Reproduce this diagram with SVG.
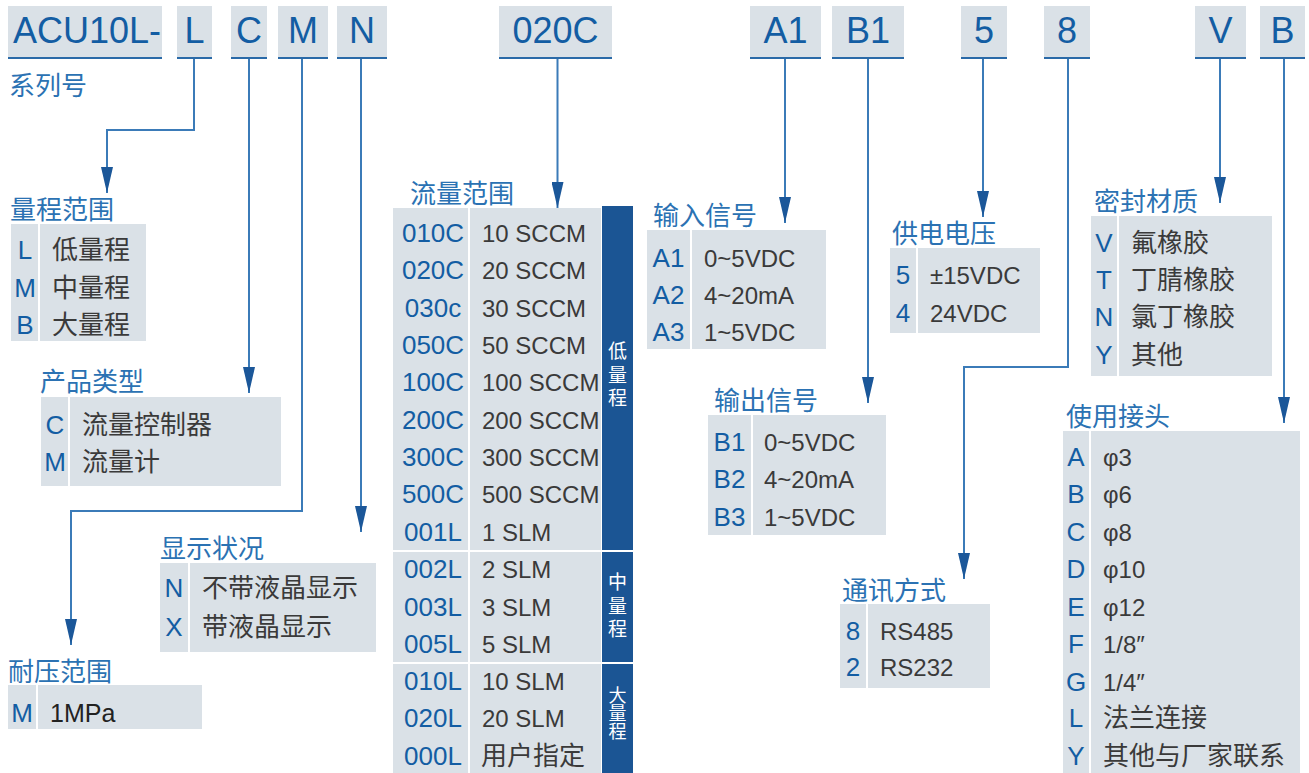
<svg xmlns="http://www.w3.org/2000/svg" width="1309" height="773" viewBox="0 0 1309 773">
<defs>
<style>
.bx{fill:#dae1e7}
.ul{stroke:#2a6aa8;stroke-width:2}
.hd{font-family:"Liberation Sans","Noto Sans CJK SC",sans-serif;font-size:36px;fill:#135da3;text-anchor:middle}
.ttl{font-family:"Noto Sans CJK SC",sans-serif;font-size:26px;fill:#2b72b3}
.cd{font-family:"Liberation Sans",sans-serif;font-size:26px;fill:#135da3;text-anchor:middle}
.vl{font-family:"Liberation Sans","Noto Sans CJK SC",sans-serif;font-size:24px;fill:#3a3a3a}
.cn{font-family:"Noto Sans CJK SC",sans-serif;font-size:26px;fill:#3a3a3a}
.bar{fill:#1b5594}
.bt{font-family:"Noto Sans CJK SC",sans-serif;font-size:19px;fill:#ffffff;text-anchor:middle;writing-mode:vertical-rl}
.cx{fill:none;stroke:#3b7bb8;stroke-width:2}
.sep{stroke:#ffffff;stroke-width:2}
</style>
<marker id="ah" viewBox="0 -6 26 12" markerWidth="26" markerHeight="12" refX="26" refY="0" orient="auto" markerUnits="userSpaceOnUse">
<path d="M0,-6 L26,0 L0,6 Z" fill="#1b5799"/>
</marker>
</defs>

<g id="header">
<g id="h-series"><rect class="bx" x="8" y="6" width="154" height="52"/><line class="ul" x1="8" y1="58" x2="162" y2="58"/><text class="hd" x="87" y="43">ACU10L-</text></g>
<g id="h-L"><rect class="bx" x="177" y="6" width="35" height="52"/><line class="ul" x1="177" y1="58" x2="212" y2="58"/><text class="hd" x="194.5" y="43">L</text></g>
<g id="h-C"><rect class="bx" x="231" y="6" width="36" height="52"/><line class="ul" x1="231" y1="58" x2="267" y2="58"/><text class="hd" x="249" y="43">C</text></g>
<g id="h-M"><rect class="bx" x="278" y="6" width="50" height="52"/><line class="ul" x1="278" y1="58" x2="328" y2="58"/><text class="hd" x="303" y="43">M</text></g>
<g id="h-N"><rect class="bx" x="337" y="6" width="50" height="52"/><line class="ul" x1="337" y1="58" x2="387" y2="58"/><text class="hd" x="362" y="43">N</text></g>
<g id="h-020C"><rect class="bx" x="499" y="6" width="113" height="52"/><line class="ul" x1="499" y1="58" x2="612" y2="58"/><text class="hd" x="555.5" y="43">020C</text></g>
<g id="h-A1"><rect class="bx" x="750" y="6" width="71" height="52"/><line class="ul" x1="750" y1="58" x2="821" y2="58"/><text class="hd" x="785.5" y="43">A1</text></g>
<g id="h-B1"><rect class="bx" x="832" y="6" width="72" height="52"/><line class="ul" x1="832" y1="58" x2="904" y2="58"/><text class="hd" x="868" y="43">B1</text></g>
<g id="h-5"><rect class="bx" x="961" y="6" width="46" height="52"/><line class="ul" x1="961" y1="58" x2="1007" y2="58"/><text class="hd" x="984" y="43">5</text></g>
<g id="h-8"><rect class="bx" x="1044" y="6" width="46" height="52"/><line class="ul" x1="1044" y1="58" x2="1090" y2="58"/><text class="hd" x="1067" y="43">8</text></g>
<g id="h-V"><rect class="bx" x="1195" y="6" width="51" height="52"/><line class="ul" x1="1195" y1="58" x2="1246" y2="58"/><text class="hd" x="1220.5" y="43">V</text></g>
<g id="h-B"><rect class="bx" x="1260" y="6" width="45" height="52"/><line class="ul" x1="1260" y1="58" x2="1305" y2="58"/><text class="hd" x="1282.5" y="43">B</text></g>
<text class="ttl" x="9" y="95">系列号</text>
</g>

<g id="connectors">
<path class="cx" d="M194,59 V130 H107 V193" marker-end="url(#ah)"/>
<path class="cx" d="M249,59 V393" marker-end="url(#ah)"/>
<path class="cx" d="M302,59 V511 H71 V645" marker-end="url(#ah)"/>
<path class="cx" d="M361,59 V532" marker-end="url(#ah)"/>
<path class="cx" d="M557.5,59 V208" marker-end="url(#ah)"/>
<path class="cx" d="M785,59 V223" marker-end="url(#ah)"/>
<path class="cx" d="M868,59 V403" marker-end="url(#ah)"/>
<path class="cx" d="M983,59 V217" marker-end="url(#ah)"/>
<path class="cx" d="M1068,59 V367 H964 V579" marker-end="url(#ah)"/>
<path class="cx" d="M1220,59 V203" marker-end="url(#ah)"/>
<path class="cx" d="M1284,59 V423" marker-end="url(#ah)"/>
</g>

<g id="range">
<text class="ttl" x="10" y="219">量程范围</text>
<rect class="bx" x="11" y="224" width="27" height="117"/>
<rect class="bx" x="40" y="224" width="106" height="117"/>
<text class="cd" x="25" y="259">L</text><text class="cn" x="52" y="259">低量程</text>
<text class="cd" x="25" y="297">M</text><text class="cn" x="52" y="297">中量程</text>
<text class="cd" x="25" y="334">B</text><text class="cn" x="52" y="334">大量程</text>
</g>

<g id="type">
<text class="ttl" x="40" y="391">产品类型</text>
<rect class="bx" x="41" y="397" width="27" height="89"/>
<rect class="bx" x="70" y="397" width="211" height="89"/>
<text class="cd" x="55" y="434">C</text><text class="cn" x="82" y="434">流量控制器</text>
<text class="cd" x="55" y="471">M</text><text class="cn" x="82" y="471">流量计</text>
</g>

<g id="display">
<text class="ttl" x="160" y="558">显示状况</text>
<rect class="bx" x="160" y="563" width="28" height="89"/>
<rect class="bx" x="190" y="563" width="186" height="89"/>
<text class="cd" x="174" y="597">N</text><text class="cn" x="202" y="597">不带液晶显示</text>
<text class="cd" x="174" y="636">X</text><text class="cn" x="202" y="636">带液晶显示</text>
</g>

<g id="pressure">
<text class="ttl" x="8" y="681">耐压范围</text>
<rect class="bx" x="8" y="685" width="28" height="44"/>
<rect class="bx" x="38" y="685" width="164" height="44"/>
<text class="cd" x="22" y="722">M</text><text class="vl" x="50" y="722" style="fill:#222;font-size:25px">1MPa</text>
</g>

<g id="flow">
<text class="ttl" x="410" y="203">流量范围</text>
<rect class="bx" x="393" y="208" width="75" height="565"/>
<rect class="bx" x="470" y="208" width="131" height="565"/>
<rect class="bar" x="602" y="206" width="31" height="567"/>
<line class="sep" x1="393" y1="551" x2="633" y2="551"/>
<line class="sep" x1="393" y1="663" x2="633" y2="663"/>
<text class="bt" x="617.5" y="377" style="letter-spacing:4.5px">低量程</text>
<text class="bt" x="617.5" y="608" style="letter-spacing:4.5px">中量程</text>
<text class="bt" x="617.5" y="713" style="font-size:18px">大量程</text>
<text class="cd" x="433" y="242">010C</text><text class="vl" x="482" y="242">10 SCCM</text>
<text class="cd" x="433" y="279">020C</text><text class="vl" x="482" y="279">20 SCCM</text>
<text class="cd" x="433" y="317">030c</text><text class="vl" x="482" y="317">30 SCCM</text>
<text class="cd" x="433" y="354">050C</text><text class="vl" x="482" y="354">50 SCCM</text>
<text class="cd" x="433" y="391">100C</text><text class="vl" x="482" y="391">100 SCCM</text>
<text class="cd" x="433" y="429">200C</text><text class="vl" x="482" y="429">200 SCCM</text>
<text class="cd" x="433" y="466">300C</text><text class="vl" x="482" y="466">300 SCCM</text>
<text class="cd" x="433" y="503">500C</text><text class="vl" x="482" y="503">500 SCCM</text>
<text class="cd" x="433" y="541">001L</text><text class="vl" x="482" y="541">1 SLM</text>
<text class="cd" x="433" y="578">002L</text><text class="vl" x="482" y="578">2 SLM</text>
<text class="cd" x="433" y="616">003L</text><text class="vl" x="482" y="616">3 SLM</text>
<text class="cd" x="433" y="653">005L</text><text class="vl" x="482" y="653">5 SLM</text>
<text class="cd" x="433" y="690">010L</text><text class="vl" x="482" y="690">10 SLM</text>
<text class="cd" x="433" y="727">020L</text><text class="vl" x="482" y="727">20 SLM</text>
<text class="cd" x="433" y="765">000L</text><text class="cn" x="481" y="765">用户指定</text>
</g>

<g id="input">
<text class="ttl" x="653" y="225">输入信号</text>
<rect class="bx" x="647" y="230" width="43" height="119"/>
<rect class="bx" x="692" y="230" width="134" height="119"/>
<text class="cd" x="668.5" y="267">A1</text><text class="vl" x="704" y="267">0~5VDC</text>
<text class="cd" x="668.5" y="304">A2</text><text class="vl" x="704" y="304">4~20mA</text>
<text class="cd" x="668.5" y="341">A3</text><text class="vl" x="704" y="341">1~5VDC</text>
</g>

<g id="output">
<text class="ttl" x="714" y="410">输出信号</text>
<rect class="bx" x="708" y="415" width="43" height="120"/>
<rect class="bx" x="753" y="415" width="133" height="120"/>
<text class="cd" x="729.5" y="451">B1</text><text class="vl" x="764" y="451">0~5VDC</text>
<text class="cd" x="729.5" y="488">B2</text><text class="vl" x="764" y="488">4~20mA</text>
<text class="cd" x="729.5" y="526">B3</text><text class="vl" x="764" y="526">1~5VDC</text>
</g>

<g id="power">
<text class="ttl" x="892" y="243">供电电压</text>
<rect class="bx" x="890" y="248" width="26" height="85"/>
<rect class="bx" x="918" y="248" width="122" height="85"/>
<text class="cd" x="903" y="284">5</text><text class="vl" x="930" y="284">±15VDC</text>
<text class="cd" x="903" y="322">4</text><text class="vl" x="930" y="322">24VDC</text>
</g>

<g id="comm">
<text class="ttl" x="842" y="600">通讯方式</text>
<rect class="bx" x="840" y="604" width="26" height="84"/>
<rect class="bx" x="868" y="604" width="122" height="84"/>
<text class="cd" x="853" y="640">8</text><text class="vl" x="880" y="640">RS485</text>
<text class="cd" x="853" y="676">2</text><text class="vl" x="880" y="676">RS232</text>
</g>

<g id="seal">
<text class="ttl" x="1094" y="211">密封材质</text>
<rect class="bx" x="1091" y="216" width="26" height="160"/>
<rect class="bx" x="1119" y="216" width="153" height="160"/>
<text class="cd" x="1104" y="252">V</text><text class="cn" x="1131" y="252">氟橡胶</text>
<text class="cd" x="1104" y="289">T</text><text class="cn" x="1131" y="289">丁腈橡胶</text>
<text class="cd" x="1104" y="326">N</text><text class="cn" x="1131" y="326">氯丁橡胶</text>
<text class="cd" x="1104" y="364">Y</text><text class="cn" x="1131" y="364">其他</text>
</g>

<g id="fitting">
<text class="ttl" x="1066" y="426">使用接头</text>
<rect class="bx" x="1063" y="431" width="26" height="342"/>
<rect class="bx" x="1091" y="431" width="209" height="342"/>
<text class="cd" x="1076" y="466">A</text><text class="vl" x="1103" y="466">φ3</text>
<text class="cd" x="1076" y="503">B</text><text class="vl" x="1103" y="503">φ6</text>
<text class="cd" x="1076" y="541">C</text><text class="vl" x="1103" y="541">φ8</text>
<text class="cd" x="1076" y="578">D</text><text class="vl" x="1103" y="578">φ10</text>
<text class="cd" x="1076" y="616">E</text><text class="vl" x="1103" y="616">φ12</text>
<text class="cd" x="1076" y="653">F</text><text class="vl" x="1103" y="653">1/8″</text>
<text class="cd" x="1076" y="691">G</text><text class="vl" x="1103" y="691">1/4″</text>
<text class="cd" x="1076" y="727">L</text><text class="cn" x="1103" y="727">法兰连接</text>
<text class="cd" x="1076" y="765">Y</text><text class="cn" x="1103" y="765">其他与厂家联系</text>
</g>
</svg>
